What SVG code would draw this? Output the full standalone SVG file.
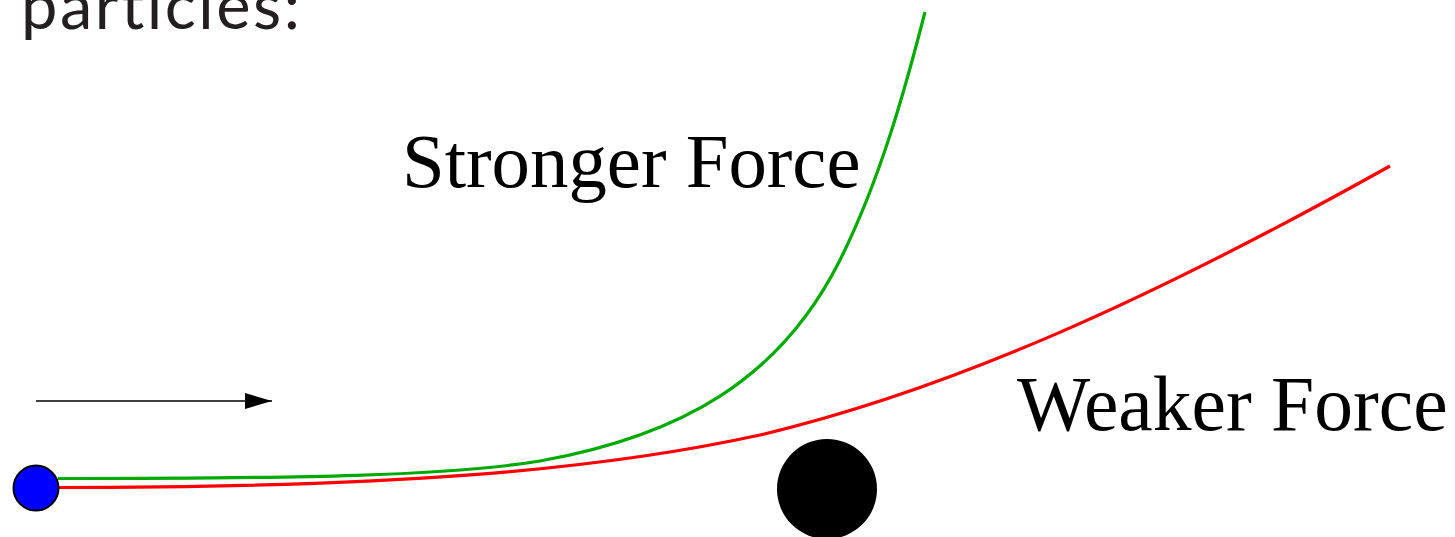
<svg xmlns="http://www.w3.org/2000/svg" width="1455" height="537" viewBox="0 0 1455 537">
<defs>
<style>
.lbl{font-family:"Liberation Serif","Times New Roman",serif;fill:#000}
.cap{font-family:Lato,"Open Sans",sans-serif;font-size:65px;fill:#231f20;letter-spacing:2.5px;font-variant-ligatures:none}
.path{fill:none;stroke-width:3.2}
</style>
<marker id="ah" markerWidth="28" markerHeight="18" refX="27" refY="8" orient="auto" markerUnits="userSpaceOnUse">
<path d="M0,0 L27,8 L0,16 Z" fill="#000"/>
</marker>
</defs>
<rect width="1455" height="537" fill="#fff"/>
<text class="cap" x="21" y="29">particles:</text>
<g id="connectors">
<path class="path" stroke="#00aa00" d="M58 478.5 C300 478.5 450 476 540 461 C680 436 780 380 840 260 C880 180 905 90 925 12"/>
<path class="path" stroke="#ff0000" d="M58 487.5 C400 487.5 600 470 760 435 C950 390 1150 300 1390 166"/>
<line x1="36" y1="401" x2="272" y2="401" stroke="#000" stroke-width="1.5" marker-end="url(#ah)"/>
</g>
<g id="particle">
<circle cx="36" cy="488" r="22.5" fill="#0000ff" stroke="#000" stroke-width="2"/>
</g>
<g id="target">
<circle cx="827" cy="489" r="50" fill="#000"/>
</g>
<g id="stronger"><text class="lbl" x="402" y="187" font-size="76.8">Stronger Force</text></g>
<g id="weaker"><text class="lbl" x="1017" y="430" font-size="77.5">Weaker Force</text></g>
</svg>
